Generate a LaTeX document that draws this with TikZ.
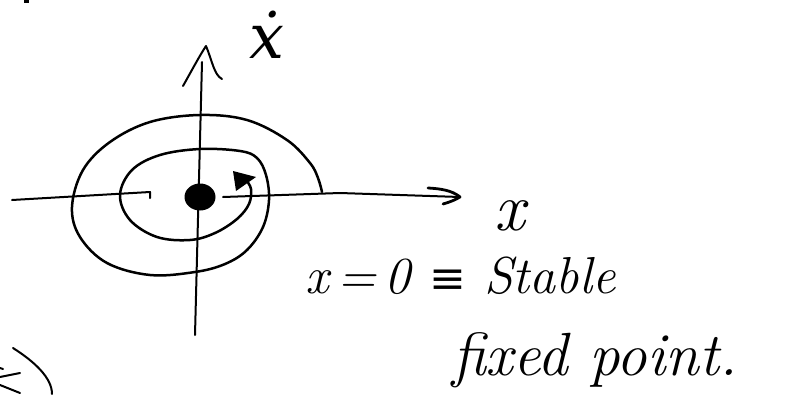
\documentclass[tikz,border=0pt]{standalone}
\usepackage{fontspec}
\usetikzlibrary{shapes.geometric}
\newfontfamily\symf{DejaVu Serif}
\begin{document}
\begin{tikzpicture}[x=1pt,y=-1pt,
  axisline/.style={line width=2pt,line cap=round,line join=round},
  spiral/.style={line width=2.5pt,line cap=round,line join=round},
  ink/.style={line width=2pt,line cap=round,line join=round},
  lbl/.style={inner sep=0pt,font=\fontsize{62}{66}\selectfont\itshape},
  txt/.style={inner sep=0pt,anchor=base west}]
\useasboundingbox (0,0) rectangle (787,394);
% fixed point
\node[ellipse,fill=black,minimum width=31pt,minimum height=27pt,inner sep=0pt] (fp) at (200,197) {};
% axes coordinates
\coordinate (ybot) at (195,335);
\coordinate (ytop) at (202,62);
\coordinate (ytip) at (206,46);
\coordinate (xleft) at (12,200);
\coordinate (xhook) at (150,192);
\coordinate (xstart) at (223,197);
\coordinate (xtip) at (460,197);
% vertical axis with hand-drawn arrow
\draw[axisline] (ybot) -- (ytop);
\draw[axisline] (183,86) .. controls (192,70) and (200,55) .. (ytip)
  .. controls (212,60) and (214,75) .. (222,79);
% horizontal axis
\draw[axisline] (xleft) -- (xhook) -- (150,198);
\draw[axisline] (xstart) -- (340,193) -- (xtip);
\draw[line width=2.8pt,line cap=round,line join=round] (428,188) .. controls (448,189) and (455,193) .. (xtip)
  .. controls (455,200) and (450,202) .. (443,204);
% spiral
\draw[spiral] plot[smooth,tension=0.6] coordinates {
 (322,192) (318,178) (310,163) (287,140) (247,120) (200,115) (150,122) (110,142)
 (83,170) (72,207) (80,237) (107,263) (150,275) (195,272) (225,264) (247,250)
 (263,227) (269,200) (266,175) (257,158) (240,151) (200,149) (160,155) (132,170)
 (120,195) (130,220) (157,237) (190,240) (215,233) (237,219) (249,204) (251,189) (246,180)};
\fill (233,171) -- (256,177) -- (236,191) -- cycle;
% labels
\node[lbl,anchor=base] (ydot) at (267,58) {{\symf ẋ}};
\node[lbl,anchor=base,font=\fontsize{68}{72}\selectfont\itshape] (xlab) at (510,230) {x};
\node[txt,font=\fontsize{52}{56}\selectfont\itshape] (line1) at (305,293) {x\,=\,0 {\upshape\symf\fontsize{44}{48}\selectfont ≡} Stable};
\node[txt,font=\fontsize{61}{64}\selectfont\itshape] (line2) at (452,375) {fixed point.};
% cropped marks at the edges
\fill (24,0) rectangle (29,3);
\draw[ink] (13,348) .. controls (35,362) and (52,378) .. (52,394);
\draw[ink] (0,377) -- (20,373);
\draw[ink] (0,385) -- (20,393);
\draw[ink] (0,368) -- (3,369);
\end{tikzpicture}
\end{document}
